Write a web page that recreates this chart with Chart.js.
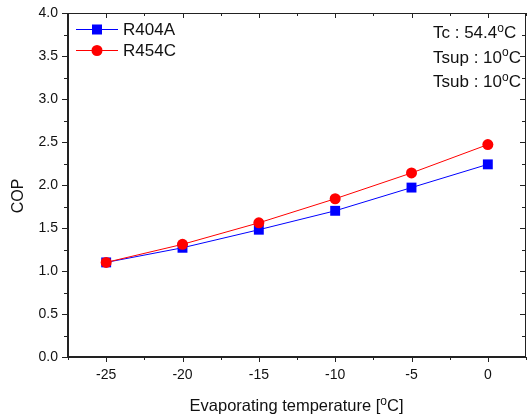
<!DOCTYPE html>
<html>
<head>
<meta charset="utf-8">
<script src="https://cdn.jsdelivr.net/npm/chart.js@4"></script>
<style>
  html, body { margin: 0; padding: 0; background: #fff; }
  #wrap { width: 530px; height: 417px; }
</style>
</head>
<body>
<div id="wrap"><canvas id="cop"></canvas></div>
<script>
const temps = [-25, -20, -15, -10, -5, 0];
const copR404A = [1.10, 1.27, 1.48, 1.70, 1.97, 2.24];
const copR454C = [1.10, 1.31, 1.56, 1.84, 2.14, 2.47];
const xTickLabels = [-25, -20, -15, -10, -5, 0];
const yTickLabels = [0, 0.5, 1, 1.5, 2, 2.5, 3, 3.5, 4];
const noteLines = [['Tc : 54.4', 'C'], ['Tsup : 10', 'C'], ['Tsub : 10', 'C']];

const FONT = '"Liberation Sans", Arial, sans-serif';

// frame, ticks, legend, notes and axis titles
const deco = {
    id: 'deco',
    afterDraw(chart) {
        const c = chart.ctx;
        const a = chart.chartArea;
        const xs = chart.scales.x, ys = chart.scales.y;
        c.save();
        c.strokeStyle = '#222';
        c.lineWidth = 2;
        c.beginPath();
        c.moveTo(a.left, a.top); c.lineTo(a.left, a.bottom); c.lineTo(a.right, a.bottom);
        c.stroke();
        c.lineWidth = 1;
        c.beginPath();
        c.moveTo(a.left, a.top + 0.5); c.lineTo(a.right - 0.5, a.top + 0.5); c.lineTo(a.right - 0.5, a.bottom);
        c.stroke();

        c.beginPath();
        for (let v = -27.5; v <= 2.5; v += 2.5) {
            const px = Math.round(xs.getPixelForValue(v)) + 0.5;
            const len = v % 5 === 0 ? 5 : 3;
            c.moveTo(px, a.bottom); c.lineTo(px, a.bottom + len);
            c.moveTo(px, a.top); c.lineTo(px, a.top + len);
        }
        for (let v = 0; v <= 4; v += 0.25) {
            const py = Math.round(ys.getPixelForValue(v)) + 0.5;
            const major = Math.abs(v * 2 - Math.round(v * 2)) < 1e-6;
            const len = major ? 6 : 4;
            c.moveTo(a.left, py); c.lineTo(a.left - len, py);
            c.moveTo(a.right, py); c.lineTo(a.right - len, py);
        }
        c.stroke();

        // legend
        const items = [
            { label: 'R404A', color: '#0000ff', style: 'rect', y: 29.5 },
            { label: 'R454C', color: '#ff0000', style: 'circle', y: 50.5 }
        ];
        items.forEach(it => {
            c.strokeStyle = it.color;
            c.lineWidth = 1;
            c.beginPath();
            c.moveTo(76, it.y); c.lineTo(118, it.y);
            c.stroke();
            c.fillStyle = it.color;
            if (it.style === 'rect') {
                c.fillRect(92, it.y - 5, 10, 10);
            } else {
                c.beginPath();
                c.arc(97, it.y, 5.5, 0, Math.PI * 2);
                c.fill();
            }
            c.fillStyle = '#111';
            c.font = '17px ' + FONT;
            c.textBaseline = 'middle';
            c.textAlign = 'left';
            c.fillText(it.label, 123, it.y + 0.5);
        });

        // text with superscript o
        c.textBaseline = 'alphabetic';
        c.fillStyle = '#111';
        const supText = (txt, unit, x, y, align, size) => {
            c.font = size + 'px ' + FONT;
            const w1 = c.measureText(txt).width;
            c.font = '12px ' + FONT;
            const w2 = c.measureText('o').width;
            c.font = size + 'px ' + FONT;
            const w3 = c.measureText(unit).width;
            let x0 = x;
            if (align === 'center') x0 = x - (w1 + w2 + w3) / 2;
            c.textAlign = 'left';
            c.fillText(txt, x0, y);
            c.font = '12px ' + FONT;
            c.fillText('o', x0 + w1, y - 6.5);
            c.font = size + 'px ' + FONT;
            c.fillText(unit, x0 + w1 + w2, y);
        };
        const baselines = [38, 62.5, 87];
        noteLines.forEach((ln, i) => supText(ln[0], ln[1], 433, baselines[i], 'left', 17));

        supText('Evaporating temperature [', 'C]', 296.5, 411, 'center', 16.5);

        c.save();
        c.translate(19, 196);
        c.rotate(-Math.PI / 2);
        c.font = '16px ' + FONT;
        c.textAlign = 'center';
        c.textBaseline = 'middle';
        c.fillText('COP', 0, 0);
        c.restore();
        c.restore();
    }
};

new Chart(document.getElementById('cop'), {
    type: 'line',
    data: {
        datasets: [{
            label: 'R454C',
            data: temps.map((t, i) => ({ x: t, y: copR454C[i] })),
            borderColor: '#ff0000',
            backgroundColor: '#ff0000',
            borderWidth: 1,
            pointStyle: 'circle',
            pointRadius: 5.5,
            pointBorderWidth: 0,
            order: 0
        }, {
            label: 'R404A',
            data: temps.map((t, i) => ({ x: t, y: copR404A[i] })),
            borderColor: '#0000ff',
            backgroundColor: '#0000ff',
            borderWidth: 1,
            pointStyle: 'rect',
            pointRadius: 7,
            pointBorderWidth: 0,
            order: 1
        }]
    },
    options: {
        responsive: true,
        maintainAspectRatio: false,
        animation: false,
        layout: { autoPadding: false, padding: { left: 0, top: 13, right: 4, bottom: 0 } },
        plugins: { legend: { display: false }, tooltip: { enabled: false } },
        scales: {
            x: {
                type: 'linear',
                min: -27.5,
                max: 2.5,
                afterBuildTicks: s => { s.ticks = xTickLabels.map(v => ({ value: v })); },
                afterFit: s => { s.height = 60; s.paddingLeft = 0; s.paddingRight = 0; },
                grid: { display: false, drawTicks: false },
                border: { display: false },
                ticks: { color: '#111', font: { family: FONT, size: 14 }, padding: 10, maxRotation: 0 }
            },
            y: {
                min: 0,
                max: 4,
                afterBuildTicks: s => { s.ticks = yTickLabels.map(v => ({ value: v })); },
                afterFit: s => { s.width = 68; s.paddingTop = 0; s.paddingBottom = 0; },
                grid: { display: false, drawTicks: false },
                border: { display: false },
                ticks: { color: '#111', font: { family: FONT, size: 14 }, padding: 10,
                    callback: v => Number(v).toFixed(1) }
            }
        }
    },
    plugins: [deco]
});
</script>
</body>
</html>
